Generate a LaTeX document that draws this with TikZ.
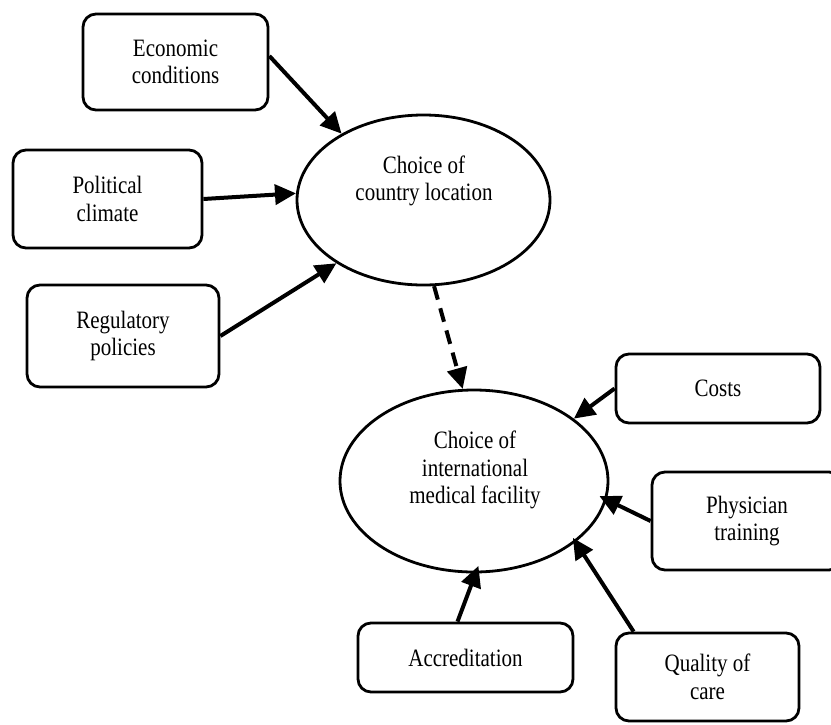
\documentclass[tikz,border=0pt]{standalone}
\usepackage{fontspec}
\setmainfont[FakeStretch=0.84]{Liberation Serif}
\usetikzlibrary{arrows.meta,shapes.geometric}
\begin{document}
\begin{tikzpicture}[x=1pt,y=1pt,
  box/.style={draw, line width=2.8pt, rounded corners=13pt, inner sep=0pt, align=center, font=\fontsize{25}{27.5}\selectfont},
  oval/.style={draw, ellipse, line width=2.8pt, inner sep=0pt},
  lbl/.style={align=center, font=\fontsize{25}{27.5}\selectfont, inner sep=0pt},
  arr/.style={line width=4pt, -{Triangle[length=21pt,width=20pt]}},
]
\useasboundingbox (0,0) rectangle (831,-724);

\node[box, minimum width=185pt, minimum height=96pt] (econ) at (175.5,-62) {Economic\\conditions};
\node[box, minimum width=189pt, minimum height=98pt] (pol) at (107.5,-199) {Political\\climate};
\node[box, minimum width=192pt, minimum height=102pt] (reg) at (123,-336) {Regulatory\\policies};
\node[box, minimum width=204pt, minimum height=69pt] (costs) at (718,-388.5) {Costs};
\node[box, minimum width=190pt, minimum height=98pt] (phys) at (747,-521) {Physician\\training};
\node[box, minimum width=183pt, minimum height=88pt] (qual) at (707.5,-677) {Quality of\\care};
\node[box, minimum width=215pt, minimum height=69pt] (acc) at (465.5,-657.5) {Accreditation};

\node[oval, minimum width=253pt, minimum height=170pt] (eA) at (423.5,-200) {};
\node[oval, minimum width=268pt, minimum height=182pt] (eB) at (474,-481) {};
\node[lbl] (tA) at (424,-181) {Choice of\\country location};
\node[lbl] (tB) at (475,-470) {Choice of\\international\\medical facility};

\draw[arr] ([yshift=6pt]econ.east) -- (eA.141);
\draw[arr] (pol.east) -- (eA.177);
\draw[arr] (reg.east) -- (eA.216);
\draw[arr, dash pattern=on 14pt off 9pt] (eA.277) -- (eB.97);
\draw[arr] (costs.west) -- (eB.32);
\draw[arr, shorten >=-8pt] (phys.west) -- (eB.352);
\draw[arr, shorten >=-5pt] ([xshift=19pt]qual.north west) -- (eB.329);
\draw[arr, shorten >=-8pt] ([xshift=-8pt]acc.north) -- (eB.271);
\end{tikzpicture}
\end{document}
